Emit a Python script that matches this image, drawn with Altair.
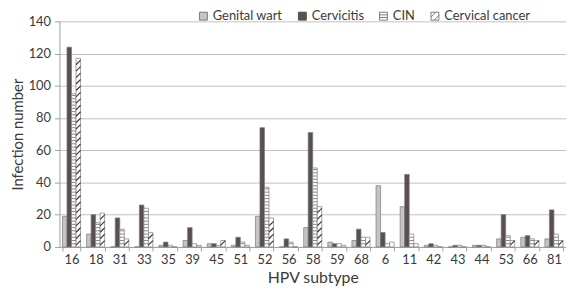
import altair as alt
import pandas as pd

subtypes = ["16", "18", "31", "33", "35", "39", "45", "51", "52", "56", "58",
            "59", "68", "6", "11", "42", "43", "44", "53", "66", "81"]
series_names = ["Genital wart", "Cervicitis", "CIN", "Cervical cancer"]
genital_wart = [19, 8, 0, 0, 1, 4, 2, 1, 19, 0, 12, 3, 4, 38, 25, 1, 0, 1, 5, 6, 5]
cervicitis = [124, 20, 18, 26, 3, 12, 2, 6, 74, 5, 71, 2, 11, 9, 45, 2, 1, 1, 20, 7, 23]
cin = [95, 15, 11, 24, 1, 2, 1, 3, 37, 3, 49, 2, 6, 2, 8, 1, 1, 1, 7, 5, 8]
cervical_cancer = [117, 21, 5, 9, 0, 1, 4, 1, 18, 0, 25, 1, 6, 3, 2, 0, 0, 0, 4, 4, 4]
fill_colors = ["#c4c4c4", "#594f4f", "#ffffff", "#ffffff"]
stroke_colors = ["#7a7a7a", "#594f4f", "#7a7a7a", "#7a7a7a"]
legend_paths = [
    "M-1,-1H1V1H-1Z",
    "M-1,-1H1V1H-1Z",
    "M-1,-1H1V1H-1Z M-1,-0.33H1 M-1,0.33H1",
    "M-1,-1H1V1H-1Z M-1,0.2L0.2,-1 M-0.2,1L1,-0.2",
]

rows = []
for name, vals in zip(series_names, [genital_wart, cervicitis, cin, cervical_cancer]):
    for s, v in zip(subtypes, vals):
        rows.append({"subtype": s, "series": name, "value": v})
df = pd.DataFrame(rows)

FONT = "Lato"
TXT = "#3a3a3a"

x = alt.X("subtype:N", sort=subtypes,
          scale=alt.Scale(paddingInner=0.25, paddingOuter=0.125),
          axis=alt.Axis(title="HPV subtype", labelAngle=0, tickBand="extent",
                        tickSize=4, labelPadding=3, titlePadding=3,
                        labelFontSize=13, titleFontSize=16, titleFontWeight="normal",
                        domainColor="#a0a0a0", tickColor="#a0a0a0"))
xoff = alt.XOffset("series:N", sort=series_names,
                   scale=alt.Scale(domain=series_names, paddingInner=0, paddingOuter=0))
yaxis = alt.Axis(title="Infection number", values=[0, 20, 40, 60, 80, 100, 120, 140],
                 tickSize=5, labelPadding=4, titlePadding=3, labelFontSize=13,
                 titleFontSize=15, titleFontWeight="normal",
                 domainColor="#a0a0a0", tickColor="#a0a0a0")
yscale = alt.Scale(domain=[0, 140], nice=False)

leg = alt.Legend(title=None, orient="none", legendX=139, legendY=-12,
                 direction="horizontal", columns=4, columnPadding=13,
                 labelFontSize=13, labelColor=TXT, labelFont=FONT, labelOffset=3,
                 symbolSize=64, symbolStrokeWidth=1,
                 padding=0, symbolOpacity=1)
fill = alt.Fill("series:N", scale=alt.Scale(domain=series_names, range=fill_colors), legend=leg)

bars = alt.Chart(df).mark_bar(stroke="#7a7a7a", strokeWidth=0.7).encode(
    x=x, xOffset=xoff, y=alt.Y("value:Q", scale=yscale, axis=yaxis), fill=fill)

legend_layer = alt.Chart(df).transform_filter("false").mark_point(
    filled=True, strokeWidth=1).encode(
    x=x, xOffset=xoff, y=alt.Y("value:Q", scale=yscale, axis=yaxis), fill=fill,
    stroke=alt.Stroke("series:N", scale=alt.Scale(domain=series_names, range=stroke_colors), legend=leg),
    shape=alt.Shape("series:N", scale=alt.Scale(domain=series_names, range=legend_paths), legend=leg))

cin_stripes = alt.Chart(df).transform_filter("datum.series == 'CIN'").transform_calculate(
    s="sequence(2, datum.value, 2)").transform_flatten(["s"]).mark_point(
    shape="M-1,0H1", size=21, stroke="#8a8a8a", strokeWidth=1, filled=False, opacity=1).encode(
    x=x, xOffset=xoff, y=alt.Y("s:Q", scale=yscale, axis=yaxis))

cc_stripes = alt.Chart(df).transform_filter("datum.series == 'Cervical cancer'").transform_calculate(
    s="sequence(2.5, datum.value - 1.2, 4)").transform_flatten(["s"]).mark_point(
    shape="M-1,1L1,-1", size=21, stroke="#3a3a3a", strokeWidth=1.2, filled=False, opacity=1).encode(
    x=x, xOffset=xoff, y=alt.Y("s:Q", scale=yscale, axis=yaxis))

chart = alt.layer(bars, cin_stripes, cc_stripes, legend_layer).properties(
    width=512, height=228, padding={"left": 2, "top": 0, "right": 0, "bottom": 0}
).configure_view(stroke=None).configure_axis(
    labelFont=FONT, titleFont=FONT, labelColor=TXT, titleColor=TXT,
    gridColor="#c0c0c0", gridWidth=1
).configure_axisX(grid=False).configure_axisY(grid=True)

chart.save("out.html", embed_options={"renderer": "svg", "actions": False})
